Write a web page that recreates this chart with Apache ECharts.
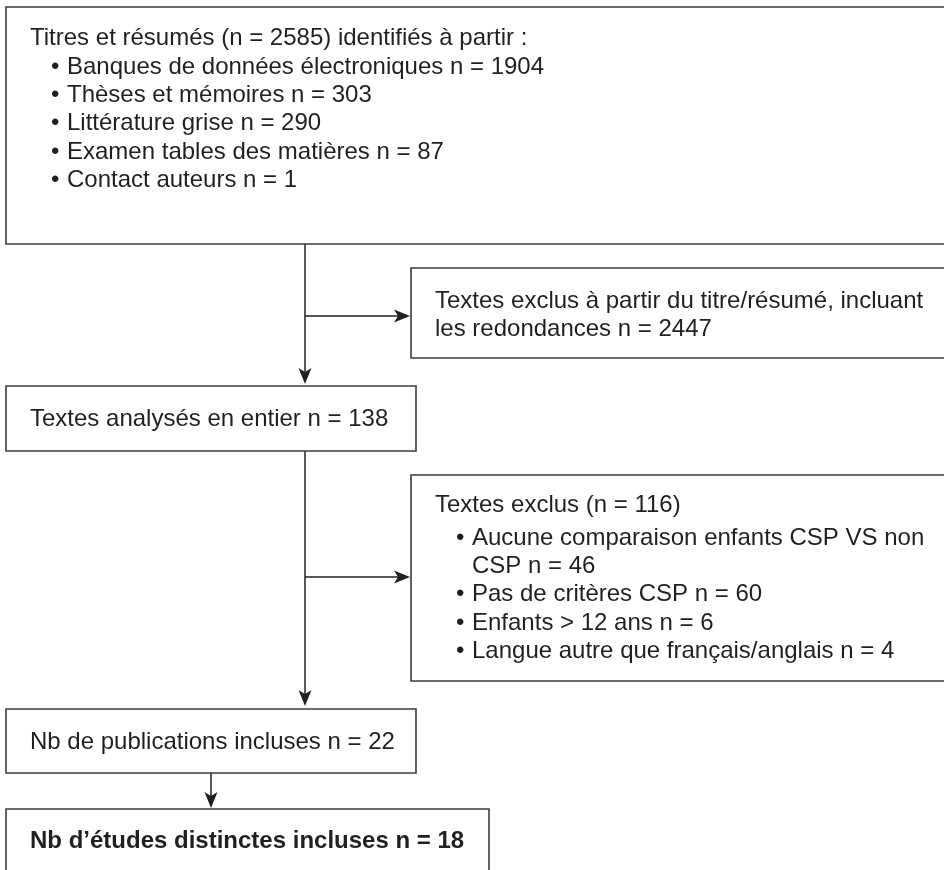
<!DOCTYPE html>
<html>
<head>
<meta charset="utf-8">
<script src="https://cdn.jsdelivr.net/npm/echarts@6/dist/echarts.min.js"></script>
<style>
  html, body { margin: 0; padding: 0; background: #fff; }
  #chart { width: 944px; height: 870px; }
</style>
</head>
<body>
<div id="chart"></div>
<script>
// flow counts
const sourceTotal = 2585;
const sourceLabels = ['Banques de données électroniques', 'Thèses et mémoires', 'Littérature grise', 'Examen tables des matières', 'Contact auteurs'];
const sourceCounts = [1904, 303, 290, 87, 1];
const screenExcluded = 2447;
const fullTextCount = 138;
const fullExcluded = 116;
const reasonLabels = ['Aucune comparaison enfants CSP VS non', 'Pas de critères CSP', 'Enfants > 12 ans', 'Langue autre que français/anglais'];
const reasonCounts = [46, 60, 6, 4];
const publicationsCount = 22;
const studiesCount = 18;

const FONT = '"Liberation Sans", Arial, Helvetica, sans-serif';
const TEXT = '#231f20';
const EDGE = '#3c3c3c';
const LINE_H = 28.4;

// box text (one entry per visual line)
const boxLines = [
  [{ t: 'Titres et résumés (n = ' + sourceTotal + ') identifiés à partir :' }]
    .concat(sourceLabels.map((l, i) => ({ t: l + ' n = ' + sourceCounts[i], bullet: true }))),
  [{ t: 'Textes exclus à partir du titre/résumé, incluant' },
   { t: 'les redondances n = ' + screenExcluded }],
  [{ t: 'Textes analysés en entier n = ' + fullTextCount }],
  [{ t: 'Textes exclus (n = ' + fullExcluded + ')' },
   { t: reasonLabels[0], bullet: true, pre: 4 },
   { t: 'CSP n = ' + reasonCounts[0], hang: true },
   { t: reasonLabels[1] + ' n = ' + reasonCounts[1], bullet: true },
   { t: reasonLabels[2] + ' n = ' + reasonCounts[2], bullet: true },
   { t: reasonLabels[3] + ' n = ' + reasonCounts[3], bullet: true }],
  [{ t: 'Nb de publications incluses n = ' + publicationsCount }],
  [{ t: 'Nb d\u2019études distinctes incluses n = ' + studiesCount, bold: true }]
];

// layout: box corners [x0, y0, x1, y1] and first text line offset
const boxRects = [
  [6, 7, 960, 244],
  [411, 268, 960, 358],
  [6, 386, 416, 451],
  [411, 475, 960, 681],
  [6, 709, 416, 773],
  [6, 809, 489, 900]
];
const firstLine = [31.5, 33, 33, 30.5, 33, 32];

// connectors [x0, y0, x1, y1]
const links = [
  [305, 244, 305, 384],
  [305, 316, 410, 316],
  [305, 451, 305, 706],
  [305, 577, 410, 577],
  [211, 773, 211, 808]
];

const chart = echarts.init(document.getElementById('chart'));

function renderBox(params, api) {
  const i = params.dataIndex;
  const p0 = api.coord([api.value(0), api.value(1)]);
  const p1 = api.coord([api.value(2), api.value(3)]);
  const children = [{
    type: 'rect',
    shape: { x: p0[0], y: p0[1], width: p1[0] - p0[0], height: p1[1] - p0[1] },
    style: { fill: '#fff', stroke: EDGE, lineWidth: 1.6 }
  }];
  let y = p0[1] + firstLine[i];
  boxLines[i].forEach((ln, k) => {
    if (k > 0) y += LINE_H + (ln.pre || 0);
    const tx = p0[0] + (ln.bullet || ln.hang ? 61 : 24);
    const font = { fill: TEXT, fontFamily: FONT, fontSize: 24, fontWeight: ln.bold ? 'bold' : 'normal', verticalAlign: 'middle', align: 'left' };
    if (ln.bullet) {
      children.push({ type: 'text', style: Object.assign({ text: '\u2022', x: p0[0] + 45, y: y }, font) });
    }
    children.push({ type: 'text', style: Object.assign({ text: ln.t, x: tx, y: y }, font) });
  });
  return { type: 'group', children: children };
}

function renderLink(params, api) {
  const a = api.coord([api.value(0), api.value(1)]);
  const b = api.coord([api.value(2), api.value(3)]);
  const dx = b[0] - a[0], dy = b[1] - a[1];
  const len = Math.sqrt(dx * dx + dy * dy);
  const ux = dx / len, uy = dy / len;
  const nx = -uy, ny = ux;
  const L = 16, W = 6.5, N = 12;
  const head = [
    [b[0], b[1]],
    [b[0] - ux * L + nx * W, b[1] - uy * L + ny * W],
    [b[0] - ux * N, b[1] - uy * N],
    [b[0] - ux * L - nx * W, b[1] - uy * L - ny * W]
  ];
  return {
    type: 'group',
    children: [
      { type: 'line', shape: { x1: a[0], y1: a[1], x2: b[0] - ux * N, y2: b[1] - uy * N },
        style: { stroke: TEXT, lineWidth: 1.5 } },
      { type: 'polygon', shape: { points: head }, style: { fill: TEXT } }
    ]
  };
}

chart.setOption({
  animation: false,
  backgroundColor: '#fff',
  grid: { left: 0, right: 0, top: 0, bottom: 0 },
  xAxis: { type: 'value', min: 0, max: 944, show: false },
  yAxis: { type: 'value', min: 0, max: 870, inverse: true, show: false },
  series: [
    { type: 'custom', renderItem: renderLink, data: links, clip: true, z: 1 },
    { type: 'custom', renderItem: renderBox, data: boxRects, clip: true, z: 2 }
  ]
});
</script>
</body>
</html>
